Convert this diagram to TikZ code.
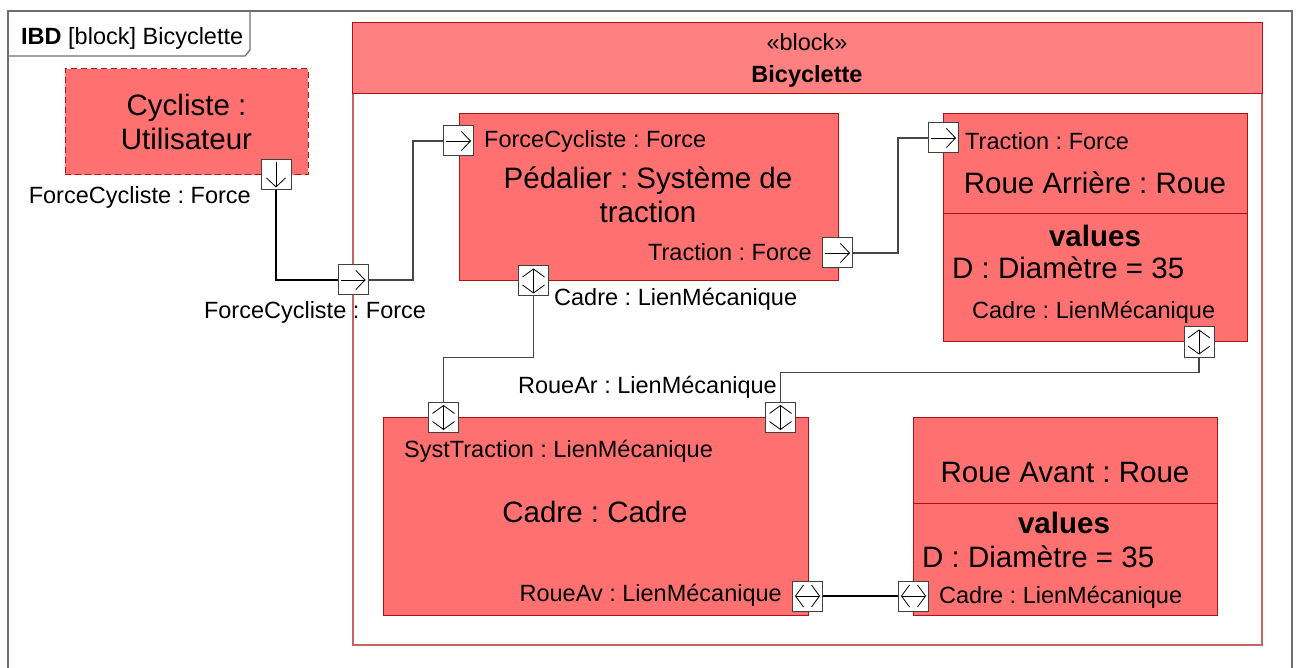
\documentclass[tikz,border=0pt]{standalone}
\usepackage{fontspec}
\setmainfont{Liberation Sans}
\usetikzlibrary{arrows.meta}
\frenchspacing
\definecolor{partfill}{RGB}{255,112,112}
\definecolor{headfill}{RGB}{255,128,128}
\definecolor{partline}{RGB}{170,20,20}
\definecolor{bodyline}{RGB}{195,100,100}
\definecolor{framegray}{RGB}{110,110,110}
\definecolor{wiregray}{RGB}{70,70,70}

\begin{document}
\begin{tikzpicture}
  [x=1pt,y=-1pt,
   part/.style={draw=partline,fill=partfill,line width=1pt,inner sep=0},
   port/.style={draw=black!75,fill=white,minimum size=30pt,inner sep=0,line width=1pt},
   wire/.style={draw=wiregray,line width=1.2pt},
   lbl/.style={inner sep=0,font=\fontsize{23.5}{28}\selectfont},
   big/.style={inner sep=0,font=\fontsize{29.5}{34}\selectfont},
   pr/.style={-{Straight Barb[length=9pt,width=19pt]},line width=0.8pt,shorten <=3pt,shorten >=3pt},
   pud/.style={{Straight Barb[length=8pt,width=22pt]}-{Straight Barb[length=8pt,width=22pt]},line width=0.8pt,shorten <=3pt,shorten >=3pt}]
  \useasboundingbox (0,0) rectangle (1296,668);

  % cadre du diagramme
  \draw[framegray,line width=1.3pt] (8,668) -- (8,11) -- (1292,11) -- (1292,668);
  \draw[framegray,line width=1.3pt] (8,56) -- (245,56) -- (250,50) -- (250,11);
  \node[lbl,anchor=west] (titre) at (21,38) {\textbf{IBD} [block] Bicyclette};

  \node[draw=bodyline,line width=1.2pt,minimum width=909pt,minimum height=622pt] (bicyclette) at (807.5,334) {};
  \draw[part,fill=headfill] (bicyclette.north west) rectangle ([yshift=-71pt]bicyclette.north east);
  \node[lbl] (stereo) at (807,42) {«block»};
  \node[lbl] (nomBic) at (807,76) {\bfseries Bicyclette};

  \node[part,dash pattern=on 6pt off 4pt,minimum width=243pt,minimum height=106pt,big,align=center] (cycliste) at (186.5,122) {Cycliste :\\Utilisateur};

  \node[part,minimum width=379pt,minimum height=167pt] (pedalier) at (648.5,197.5) {};
  \node[big,align=center] (nomPed) at (648,195) {Pédalier : Système de\\traction};

  \node[part,minimum width=304pt,minimum height=228pt] (rouear) at (1095,228) {};
  \draw[partline,line width=1pt] ([yshift=14pt]rouear.west) -- ([yshift=14pt]rouear.east);
  \node[big] (nomRAr) at (1095,183) {Roue Arrière : Roue};
  \node[big] (valRAr) at (1095,236) {\bfseries values};
  \node[big,anchor=west] (dRAr) at (952,268) {D : Diamètre = 35};

  \node[part,minimum width=425pt,minimum height=198pt] (cadre) at (595.5,516) {};
  \node[big] (nomCadre) at (595,512) {Cadre : Cadre};

  \node[part,minimum width=304pt,minimum height=198pt] (roueav) at (1065,516) {};
  \draw[partline,line width=1pt] ([yshift=13pt]roueav.west) -- ([yshift=13pt]roueav.east);
  \node[big] (nomRAv) at (1065,472) {Roue Avant : Roue};
  \node[big] (valRAv) at (1064,523) {\bfseries values};
  \node[big,anchor=west] (dRAv) at (922,557) {D : Diamètre = 35};

  % ports
  \foreach \n/\x/\y in {pCyc/276/175, pBic/353/280, pPedF/458.5/141, pPedT/837.5/253,
      pPedC/533.5/281, pRArT/943.5/138, pRArC/1199/342, pCadS/443.5/417.5,
      pCadR/780.5/417.5, pCadV/807.5/596, pRAvC/913.5/596}
    \node[port] (\n) at (\x,\y) {};

  \draw[pr] (pCyc.north) -- (pCyc.south);
  \foreach \n in {pBic,pPedF,pPedT,pRArT}
    \draw[pr] (\n.west) -- (\n.east);
  \foreach \n in {pPedC,pRArC,pCadS,pCadR}
    \draw[pud] (\n.north) -- (\n.south);
  \foreach \n in {pCadV,pRAvC}
    \draw[pud] (\n.west) -- (\n.east);

  % connecteurs
  \draw[wire,draw=black] (pCyc.south) |- (pBic.west);
  \draw[wire] (pBic.east) -| ([xshift=-30pt]pPedF.west) -- (pPedF.west);
  \draw[wire] (pPedT.east) -| ([xshift=-30pt]pRArT.west) -- (pRArT.west);
  \draw[wire] (pPedC.south) -- ++(0,61) -| (pCadS.north);
  \draw[wire] (pRArC.south) -- ++(0,15) -| (pCadR.north);
  \draw[wire,draw=black] (pCadV.east) -- (pRAvC.west);

  \node[lbl,anchor=east] (lCyc) at (251,197) {ForceCycliste : Force};
  \node[lbl] (lBic) at (315,312) {ForceCycliste : Force};
  \node[lbl,anchor=west] (lPedF) at (484,141) {ForceCycliste : Force};
  \node[lbl,anchor=east] (lPedT) at (812,252) {Traction : Force};
  \node[lbl,anchor=west] (lPedC) at (554,299) {Cadre : LienMécanique};
  \node[lbl,anchor=west] (lRArT) at (965,141) {Traction : Force};
  \node[lbl,anchor=west] (lRArC) at (972,312) {Cadre : LienMécanique};
  \node[lbl,anchor=east] (lCadR) at (777,387) {RoueAr : LienMécanique};
  \node[lbl,anchor=west] (lCadS) at (404,451) {SystTraction : LienMécanique};
  \node[lbl,anchor=east] (lCadV) at (782,595) {RoueAv : LienMécanique};
  \node[lbl,anchor=west] (lRAvC) at (939,597) {Cadre : LienMécanique};

\end{tikzpicture}
\end{document}
